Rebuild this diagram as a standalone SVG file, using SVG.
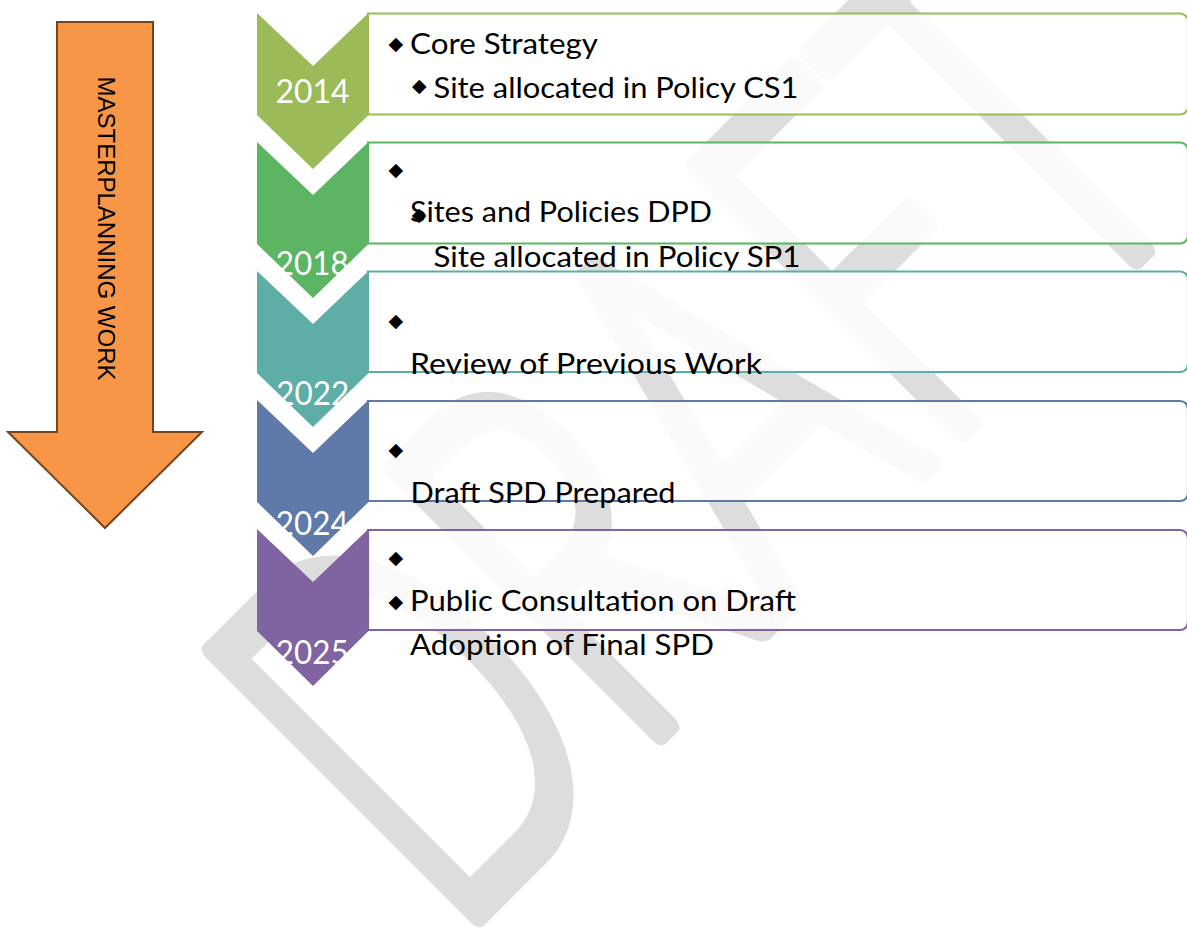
<svg xmlns="http://www.w3.org/2000/svg" width="1187" height="931" viewBox="0 0 1187 931">
<style>
.wm{font-family:Lato,"Open Sans",sans-serif;font-weight:300;font-size:530px;fill:#dddddd;stroke:#dddddd;stroke-width:22;stroke-linejoin:round;stroke-linecap:round}
.box{fill:#ffffff;fill-opacity:0.85;stroke-width:2.2}
.lbl{font-family:Lato,"Liberation Sans",sans-serif;font-size:29px;fill:#000000}
.yr{font-family:Lato,"Liberation Sans",sans-serif;font-size:32.5px;fill:#ffffff;text-anchor:middle}
.bul{font-family:"DejaVu Sans",sans-serif;font-size:19px;fill:#000000;text-anchor:middle}
.side{font-family:"Liberation Sans",Arial,sans-serif;font-size:24px;fill:#000000;text-anchor:middle}
</style>
<rect width="1187" height="931" fill="#ffffff"/>
<g id="watermark">
<text class="wm" transform="translate(451,943) rotate(-45)" x="0" y="0" textLength="1072" lengthAdjust="spacingAndGlyphs">DRAFT</text>
</g>
<g id="masterplanning-arrow">
<path d="M57,22 H153 V432 H202 L105,528 L8,432 H57 Z" fill="#f79646" stroke="#74451d" stroke-width="2" stroke-linejoin="miter"/>
<text class="side" transform="translate(97.5,228.5) rotate(90)" x="0" y="0">MASTERPLANNING WORK</text>
</g>
<g id="connectors"></g>
<g id="stage-2014">
<path class="box" stroke="#9bbb59" d="M368,13.5 H1180 A8,8 0 0 1 1188,21.5 V106.5 A8,8 0 0 1 1180,114.5 H368 Z"/>
<polygon fill="#9bbb59" points="257,13 313,66 368.5,13 368.5,115 313,169 257,115"/>
<text class="yr" x="312.5" y="103.3" textLength="74" lengthAdjust="spacingAndGlyphs">2014</text>
<text class="bul" x="395.7" y="49.6">◆</text>
<text class="lbl" x="410" y="53.5" textLength="188" lengthAdjust="spacingAndGlyphs">Core Strategy</text>
<text class="bul" x="419.3" y="92.3">◆</text>
<text class="lbl" x="433.5" y="98" textLength="365" lengthAdjust="spacingAndGlyphs">Site allocated in Policy CS1</text>
</g>
<g id="stage-2018">
<path class="box" stroke="#5bb562" d="M368,142.5 H1180 A8,8 0 0 1 1188,150.5 V235.5 A8,8 0 0 1 1180,243.5 H368 Z"/>
<polygon fill="#5bb562" points="257,142 313,195 368.5,142 368.5,244 313,298 257,244"/>
<text class="yr" x="312.3" y="275" textLength="73" lengthAdjust="spacingAndGlyphs">2018</text>
<text class="bul" x="395.7" y="175.6">◆</text>
<text class="lbl" x="410" y="222" textLength="302" lengthAdjust="spacingAndGlyphs">Sites and Policies DPD</text>
<text class="bul" x="419" y="221.3">◆</text>
<text class="lbl" x="433.5" y="267" textLength="367" lengthAdjust="spacingAndGlyphs">Site allocated in Policy SP1</text>
</g>
<g id="stage-2022">
<path class="box" stroke="#5eada6" d="M368,271.5 H1180 A8,8 0 0 1 1188,279.5 V364 A8,8 0 0 1 1180,372 H368 Z"/>
<polygon fill="#5eada6" points="257,271 313,324 368.5,271 368.5,373 313,427 257,373"/>
<text class="yr" x="312.8" y="405" textLength="73" lengthAdjust="spacingAndGlyphs">2022</text>
<text class="bul" x="395.7" y="327.3">◆</text>
<text class="lbl" x="410" y="374" textLength="352" lengthAdjust="spacingAndGlyphs">Review of Previous Work</text>
</g>
<g id="stage-2024">
<path class="box" stroke="#5f7aa9" d="M368,401 H1180 A8,8 0 0 1 1188,409 V493 A8,8 0 0 1 1180,501 H368 Z"/>
<polygon fill="#5f7aa9" points="257,400 313,453 368.5,400 368.5,502 313,556 257,502"/>
<text class="yr" x="312.3" y="535" textLength="73" lengthAdjust="spacingAndGlyphs">2024</text>
<text class="bul" x="395.7" y="456.3">◆</text>
<text class="lbl" x="410.5" y="503" textLength="265" lengthAdjust="spacingAndGlyphs">Draft SPD Prepared</text>
</g>
<g id="stage-2025">
<path class="box" stroke="#8064a2" d="M368,530 H1180 A8,8 0 0 1 1188,538 V622 A8,8 0 0 1 1180,630 H368 Z"/>
<polygon fill="#8064a2" points="257,529 313,582 368.5,529 368.5,631 313,686 257,631"/>
<text class="yr" x="312.3" y="664" textLength="73" lengthAdjust="spacingAndGlyphs">2025</text>
<text class="bul" x="395.7" y="564">◆</text>
<text class="bul" x="395.7" y="608">◆</text>
<text class="lbl" x="410" y="610.5" textLength="386" lengthAdjust="spacingAndGlyphs">Public Consultation on Draft</text>
<text class="lbl" x="410" y="654.5" textLength="304" lengthAdjust="spacingAndGlyphs">Adoption of Final SPD</text>
</g>
</svg>
